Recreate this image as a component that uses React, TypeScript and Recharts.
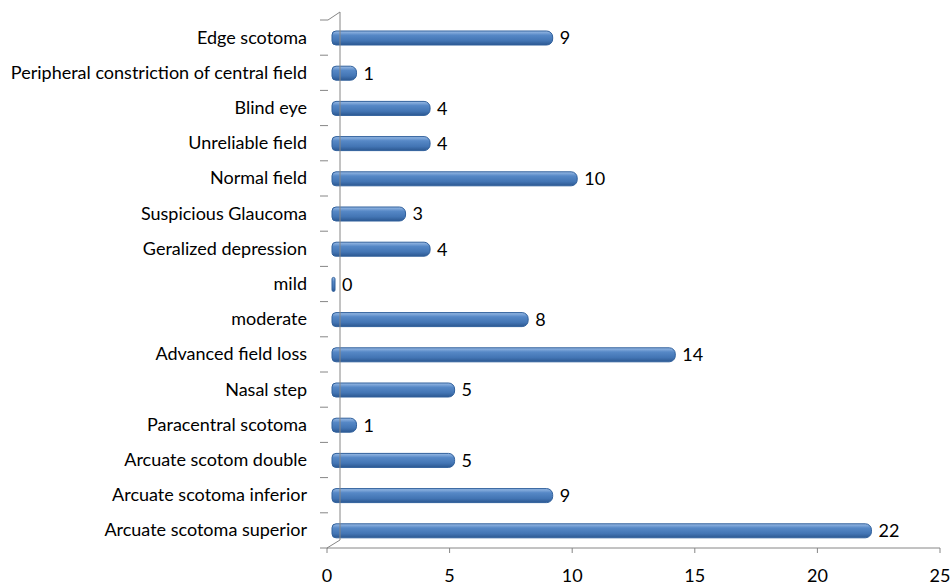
import React from "react";
import { BarChart, Bar, XAxis, YAxis, LabelList, Rectangle } from "recharts";

const categories = [
  "Edge scotoma",
  "Peripheral constriction of central field",
  "Blind eye",
  "Unreliable field",
  "Normal field",
  "Suspicious Glaucoma",
  "Geralized depression",
  "mild",
  "moderate",
  "Advanced field loss ",
  "Nasal step",
  "Paracentral scotoma",
  "Arcuate scotom double ",
  "Arcuate scotoma inferior",
  "Arcuate scotoma superior",
];
const counts = [9, 1, 4, 4, 10, 3, 4, 0, 8, 14, 5, 1, 5, 9, 22];
const xTicks = [0, 5, 10, 15, 20, 25];

const data = categories.map((name, i) => ({ name, value: counts[i] }));

const FONT = "Lato, 'Open Sans', sans-serif";
const TOP = 20;
const BOTTOM = 548;
const BAND = (BOTTOM - TOP) / categories.length;
const DEPTH = 8; // 3d wall offset

function CategoryTick(props: any) {
  const { x, y, payload, index } = props;
  const axisX = x + 20;
  const isLast = index === categories.length - 1;
  return (
    <g>
      <line x1={axisX - 7} x2={axisX + 1} y1={y - BAND / 2} y2={y - BAND / 2} stroke="#868686" />
      {isLast && <line x1={axisX - 7} x2={axisX + 1} y1={y + BAND / 2} y2={y + BAND / 2} stroke="#868686" />}
      {index === 0 && (
        <polyline
          points={`${axisX + 1},${y - BAND / 2} ${axisX + 13},${y - BAND / 2 - 8} ${axisX + 13},${BOTTOM - 8} ${axisX},${BOTTOM}`}
          fill="none"
          stroke="#868686"
        />
      )}
      <text x={x} y={y} dy={6} textAnchor="end" fontSize={18} fontFamily={FONT} fill="#000">
        {payload.value}
      </text>
    </g>
  );
}

function DepthBar(props: any) {
  const { x, y, width, height } = props;
  return (
    <Rectangle
      x={x + DEPTH - 3}
      y={y}
      width={width}
      height={height}
      radius={[4, 6, 6, 4]}
      fill="url(#barGrad)"
      stroke="#30609C"
      strokeWidth={1}
    />
  );
}

export default function App() {
  return (
    <div style={{ position: "absolute", left: 0, top: 0, background: "#fff" }}>
      <BarChart
        width={951}
        height={587}
        data={data}
        layout="vertical"
        margin={{ top: TOP, right: 11, bottom: 587 - BOTTOM - 30, left: 0 }}
      >
        <defs>
          <linearGradient id="barGrad" x1="0" y1="0" x2="0" y2="1">
            <stop offset="0%" stopColor="#9BBCE6" />
            <stop offset="30%" stopColor="#5688C6" />
            <stop offset="70%" stopColor="#4375B4" />
            <stop offset="100%" stopColor="#2C5891" />
          </linearGradient>
        </defs>
        <XAxis
          type="number"
          domain={[0, 25]}
          ticks={xTicks}
          interval={0}
          height={30}
          stroke="#868686"
          tickSize={5}
          tickMargin={16}
          tick={{ fontSize: 18, fontFamily: FONT, fill: "#000" }}
        />
        <YAxis
          type="category"
          dataKey="name"
          width={327}
          axisLine={false}
          tickLine={false}
          tickSize={0}
          tickMargin={20}
          interval={0}
          tick={<CategoryTick />}
        />
        <Bar
          dataKey="value"
          barSize={14}
          minPointSize={3}
          shape={<DepthBar />}
          isAnimationActive={false}
        >
          <LabelList dataKey="value" position="right" offset={DEPTH + 4} fontSize={18} fontFamily={FONT} fill="#000" />
        </Bar>
      </BarChart>
    </div>
  );
}
